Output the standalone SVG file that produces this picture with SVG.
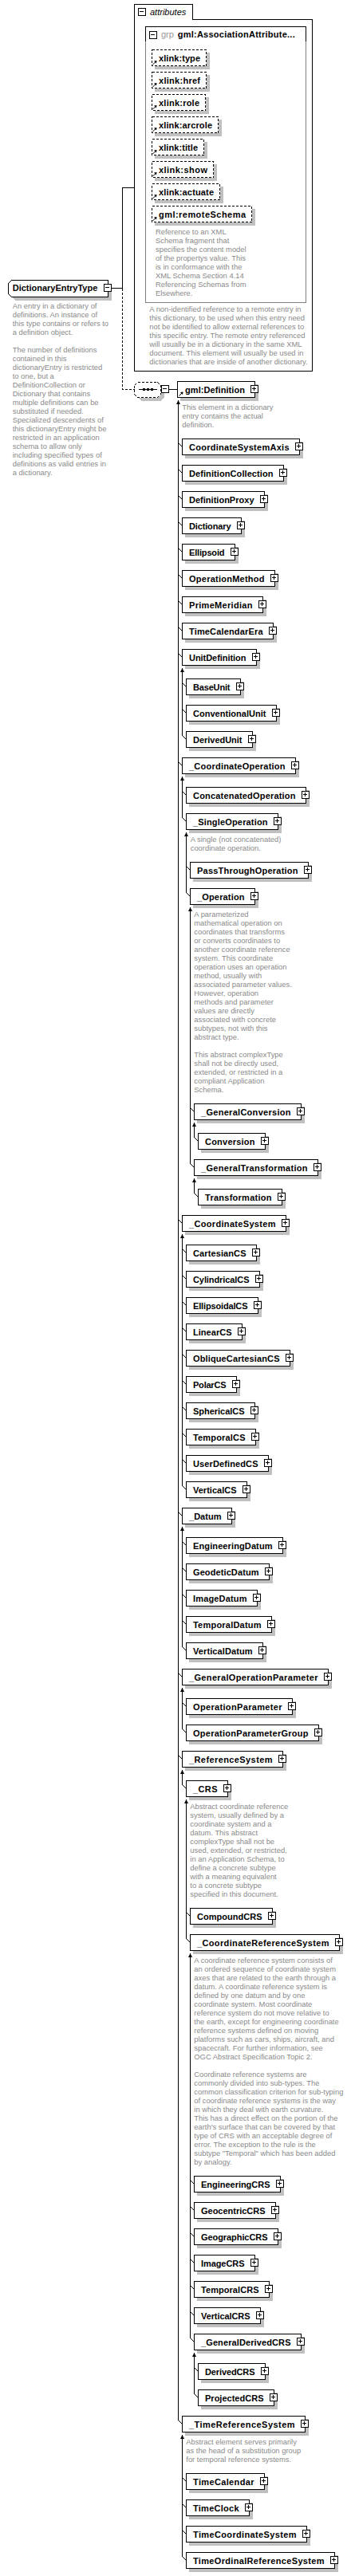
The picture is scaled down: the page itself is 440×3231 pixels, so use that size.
<svg xmlns="http://www.w3.org/2000/svg" width="440" height="3231" viewBox="0 0 440 3231">
<style>
text{font-family:"Liberation Sans",Arial,sans-serif}
.lb{font-size:11px;font-weight:bold;fill:#000}
.it{font-size:11px;font-style:italic;fill:#000}
.gr{font-size:11px;fill:#999}
.d{font-size:9.4px;fill:#8a8a8a}
.bx{fill:#fff;stroke:#000;shape-rendering:crispEdges}
.sh{fill:#c0c0c0;shape-rendering:crispEdges}
.dash{fill:#fff;stroke:#000;stroke-dasharray:3 2;shape-rendering:crispEdges}
.ln{fill:none;stroke:#000;shape-rendering:crispEdges}
.tk{fill:none;stroke:#000}
.ar{fill:none;stroke:#000;marker-start:url(#arr);shape-rendering:crispEdges}
</style>
<defs>
<marker id="arr" viewBox="0 0 5 5" refX="5" refY="2.5" markerWidth="5" markerHeight="5" markerUnits="userSpaceOnUse" orient="auto-start-reverse"><path d="M0 0L5 2.5L0 5z" fill="#000"/></marker>
<g id="plus"><rect x="-4.5" y="-4.5" width="9" height="9" class="bx"/><path d="M-3 -0.5H2M-0.5 -3V2" class="ln"/></g>
<g id="minus"><rect x="-4.5" y="-4.5" width="9" height="9" class="bx"/><path d="M-3 -0.5H2" class="ln"/></g>
<g id="refi"><path d="M0.5 5L4 1.5" class="tk"/><path d="M5.5 0L2 0.5L5 3.5z" fill="#000"/></g>
</defs>
<rect width="440" height="3231" fill="#fff"/>

<g id="DictionaryEntryType">
<polygon class="sh" points="18.5,355.5 139.5,355.5 139.5,376.5 18.5,376.5 14.5,372.5 14.5,359.5"/>
<polygon class="bx" points="14.5,351.5 135.5,351.5 135.5,372.5 14.5,372.5 10.5,368.5 10.5,355.5"/>
<text class="lb" x="15.7" y="365" textLength="106.6">DictionaryEntryType</text>
<use href="#minus" x="135" y="361"/>
<text class="d"><tspan x="15.7" y="387">An entry in a dictionary of</tspan><tspan x="15.7" y="398">definitions. An instance of</tspan><tspan x="15.7" y="409">this type contains or refers to</tspan><tspan x="15.7" y="420">a definition object.</tspan><tspan x="15.7" y="442">The number of definitions</tspan><tspan x="15.7" y="453">contained in this</tspan><tspan x="15.7" y="464">dictionaryEntry is restricted</tspan><tspan x="15.7" y="475">to one, but a</tspan><tspan x="15.7" y="486">DefinitionCollection or</tspan><tspan x="15.7" y="497">Dictionary that contains</tspan><tspan x="15.7" y="508">multiple definitions can be</tspan><tspan x="15.7" y="519">substituted if needed.</tspan><tspan x="15.7" y="530">Specialized descendents of</tspan><tspan x="15.7" y="541">this dictionaryEntry might be</tspan><tspan x="15.7" y="552">restricted in an application</tspan><tspan x="15.7" y="563">schema to allow only</tspan><tspan x="15.7" y="574">including specified types of</tspan><tspan x="15.7" y="585">definitions as valid entries in</tspan><tspan x="15.7" y="596">a dictionary.</tspan></text>
</g>

<g id="attributes">
<path class="ln" d="M168.5 5.5H241.5V24.5H391.5V465.5H168.5Z"/>
<use href="#minus" x="178" y="15"/>
<text class="it" x="188" y="18.5">attributes</text>
<rect x="182.5" y="33.5" width="201" height="346" fill="none" stroke="#808080" style="shape-rendering:crispEdges"/>
<path class="ln" d="M182.5 52V33.5H383.5V52"/>
<use href="#minus" x="192" y="44"/>
<text class="gr" x="202" y="47">grp</text>
<text class="lb" x="222.7" y="47" textLength="147">gml:AssociationAttribute...</text>
<text class="d"><tspan x="187.3" y="391">A non-identified reference to a remote entry in</tspan><tspan x="187.3" y="402">this dictionary, to be used when this entry need</tspan><tspan x="187.3" y="413">not be identified to allow external references to</tspan><tspan x="187.3" y="424">this specific entry. The remote entry referenced</tspan><tspan x="187.3" y="435">will usually be in a dictionary in the same XML</tspan><tspan x="187.3" y="446">document. This element will usually be used in</tspan><tspan x="187.3" y="457">dictionaries that are inside of another dictionary.</tspan></text>
</g>

<g id="a-xlink-type"><rect class="sh" x="194" y="66" width="69" height="21"/><rect class="dash" x="190.5" y="62.5" width="68" height="20"/><text class="lb" x="199" y="76.5" textLength="52">xlink:type</text><use href="#refi" x="191" y="76"/></g>
<g id="a-xlink-href"><rect class="sh" x="194" y="94" width="69" height="21"/><rect class="dash" x="190.5" y="90.5" width="68" height="20"/><text class="lb" x="199" y="104.5" textLength="52">xlink:href</text><use href="#refi" x="191" y="104"/></g>
<g id="a-xlink-role"><rect class="sh" x="194" y="122" width="68" height="21"/><rect class="dash" x="190.5" y="118.5" width="67" height="20"/><text class="lb" x="199" y="132.5" textLength="51">xlink:role</text><use href="#refi" x="191" y="132"/></g>
<g id="a-xlink-arcrole"><rect class="sh" x="194" y="150" width="84" height="21"/><rect class="dash" x="190.5" y="146.5" width="83" height="20"/><text class="lb" x="199" y="160.5" textLength="67">xlink:arcrole</text><use href="#refi" x="191" y="160"/></g>
<g id="a-xlink-title"><rect class="sh" x="194" y="178" width="66" height="21"/><rect class="dash" x="190.5" y="174.5" width="65" height="20"/><text class="lb" x="199" y="188.5" textLength="49">xlink:title</text><use href="#refi" x="191" y="188"/></g>
<g id="a-xlink-show"><rect class="sh" x="194" y="206" width="78" height="21"/><rect class="dash" x="190.5" y="202.5" width="77" height="20"/><text class="lb" x="199" y="216.5" textLength="61">xlink:show</text><use href="#refi" x="191" y="216"/></g>
<g id="a-xlink-actuate"><rect class="sh" x="194" y="234" width="86" height="21"/><rect class="dash" x="190.5" y="230.5" width="85" height="20"/><text class="lb" x="199" y="244.5" textLength="69">xlink:actuate</text><use href="#refi" x="191" y="244"/></g>
<g id="a-gml-remoteSchema"><rect class="sh" x="194" y="262" width="126" height="21"/><rect class="dash" x="190.5" y="258.5" width="125" height="20"/><text class="lb" x="199" y="272.5" textLength="109">gml:remoteSchema</text><use href="#refi" x="191" y="272"/>
<text class="d"><tspan x="195" y="294">Reference to an XML</tspan><tspan x="195" y="305">Schema fragment that</tspan><tspan x="195" y="316">specifies the content model</tspan><tspan x="195" y="327">of the propertys value. This</tspan><tspan x="195" y="338">is in conformance with the</tspan><tspan x="195" y="349">XML Schema Section 4.14</tspan><tspan x="195" y="360">Referencing Schemas from</tspan><tspan x="195" y="371">Elsewhere.</tspan></text></g>

<g id="sequence">
<polygon class="sh" points="176.5,483.5 201.5,483.5 205.5,487.5 205.5,498.5 201.5,502.5 176.5,502.5 172.5,498.5 172.5,487.5"/>
<polygon class="dash" points="172.5,479.5 197.5,479.5 201.5,483.5 201.5,494.5 197.5,498.5 172.5,498.5 168.5,494.5 168.5,483.5"/>
<path class="ln" d="M174 488.5H197"/>
<rect x="179" y="487" width="3" height="3" fill="#000"/><rect x="184" y="487" width="3" height="3" fill="#000"/><rect x="189" y="487" width="3" height="3" fill="#000"/>
<use href="#minus" x="207" y="488"/>
</g>

<g id="gml-Definition"><rect class="sh" x="226" y="482" width="98" height="21"/><rect class="bx" x="222.5" y="478.5" width="97" height="20"/><text class="lb" x="232" y="492.5" textLength="75">gml:Definition</text><use href="#plus" x="319" y="488"/><use href="#refi" x="224" y="491.5"/>
<text class="d"><tspan x="228.3" y="513.5">This element in a dictionary</tspan><tspan x="228.3" y="524.5">entry contains the actual</tspan><tspan x="228.3" y="535.5">definition.</tspan></text></g>

<g id="connectors">
<path class="ln" d="M139 361.5H153.5V235.5H168.5"/>
<path class="ln" style="stroke-dasharray:3 2" d="M153.5 361.5V488.5H168.5"/>
<path class="ln" d="M211.5 488.5H222.5"/>
<path class="ar" d="M223.5 502V3035.5"/>
<path class="ar" d="M228.5 838V922.5"/>
<path class="ar" d="M228.5 974V1025.5"/>
<path class="ar" d="M233.5 1044V1119.5"/>
<path class="ar" d="M238.5 1138V1459.5"/>
<path class="ar" d="M243.5 1408V1426.5"/>
<path class="ar" d="M243.5 1478V1496.5"/>
<path class="ar" d="M228.5 1548V1863.5"/>
<path class="ar" d="M228.5 1915V2065.5"/>
<path class="ar" d="M228.5 2117V2168.5"/>
<path class="ar" d="M228.5 2220V2238.5"/>
<path class="ar" d="M233.5 2257V2431.5"/>
<path class="ar" d="M238.5 2450V2932.5"/>
<path class="ar" d="M243.5 2951V3002.5"/>
<path class="ar" d="M228.5 3054V3206.5"/>
<path class="tk" d="M223.5 555.5l5 5M223.5 588.5l5 5M223.5 621.5l5 5M223.5 654.5l5 5M223.5 687.5l5 5M223.5 720.5l5 5M223.5 753.5l5 5M223.5 786.5l5 5M223.5 819.5l5 5M223.5 955.5l5 5M223.5 1529.5l5 5M223.5 1896.5l5 5M223.5 2098.5l5 5M223.5 2201.5l5 5M223.5 3035.5l5 5"/>
<path class="tk" d="M228.5 856.5l5 5M228.5 889.5l5 5M228.5 922.5l5 5M228.5 992.5l5 5M228.5 1025.5l5 5M228.5 1566.5l5 5M228.5 1599.5l5 5M228.5 1632.5l5 5M228.5 1665.5l5 5M228.5 1698.5l5 5M228.5 1731.5l5 5M228.5 1764.5l5 5M228.5 1797.5l5 5M228.5 1830.5l5 5M228.5 1863.5l5 5M228.5 1933.5l5 5M228.5 1966.5l5 5M228.5 1999.5l5 5M228.5 2032.5l5 5M228.5 2065.5l5 5M228.5 2135.5l5 5M228.5 2168.5l5 5M228.5 2238.5l5 5M228.5 3107.5l5 5M228.5 3140.5l5 5M228.5 3173.5l5 5M228.5 3206.5l5 5"/>
<path class="tk" d="M233.5 1086.5l5 5M233.5 1119.5l5 5M233.5 2398.5l5 5M233.5 2431.5l5 5"/>
<path class="tk" d="M238.5 1389.5l5 5M238.5 1459.5l5 5M238.5 2734.5l5 5M238.5 2767.5l5 5M238.5 2800.5l5 5M238.5 2833.5l5 5M238.5 2866.5l5 5M238.5 2899.5l5 5M238.5 2932.5l5 5"/>
<path class="tk" d="M243.5 1426.5l5 5M243.5 1496.5l5 5M243.5 2969.5l5 5M243.5 3002.5l5 5"/>
</g>

<g id="n-CoordinateSystemAxis"><rect class="sh" x="232" y="554" width="148" height="21"/><rect class="bx" x="228.5" y="550.5" width="147" height="20"/><text class="lb" x="237" y="564.5" textLength="125.5">CoordinateSystemAxis</text><use href="#plus" x="375" y="560"/></g>
<g id="n-DefinitionCollection"><rect class="sh" x="232" y="587" width="128" height="21"/><rect class="bx" x="228.5" y="583.5" width="127" height="20"/><text class="lb" x="237" y="597.5" textLength="105.5">DefinitionCollection</text><use href="#plus" x="355" y="593"/></g>
<g id="n-DefinitionProxy"><rect class="sh" x="232" y="620" width="104" height="21"/><rect class="bx" x="228.5" y="616.5" width="103" height="20"/><text class="lb" x="237" y="630.5" textLength="81.5">DefinitionProxy</text><use href="#plus" x="331" y="626"/></g>
<g id="n-Dictionary"><rect class="sh" x="232" y="653" width="75" height="21"/><rect class="bx" x="228.5" y="649.5" width="74" height="20"/><text class="lb" x="237" y="663.5" textLength="52.5">Dictionary</text><use href="#plus" x="302" y="659"/></g>
<g id="n-Ellipsoid"><rect class="sh" x="232" y="686" width="67" height="21"/><rect class="bx" x="228.5" y="682.5" width="66" height="20"/><text class="lb" x="237" y="696.5" textLength="44.5">Ellipsoid</text><use href="#plus" x="294" y="692"/></g>
<g id="n-OperationMethod"><rect class="sh" x="232" y="719" width="117" height="21"/><rect class="bx" x="228.5" y="715.5" width="116" height="20"/><text class="lb" x="237" y="729.5" textLength="94.5">OperationMethod</text><use href="#plus" x="344" y="725"/></g>
<g id="n-PrimeMeridian"><rect class="sh" x="232" y="752" width="102" height="21"/><rect class="bx" x="228.5" y="748.5" width="101" height="20"/><text class="lb" x="237" y="762.5" textLength="79.5">PrimeMeridian</text><use href="#plus" x="329" y="758"/></g>
<g id="n-TimeCalendarEra"><rect class="sh" x="232" y="785" width="115" height="21"/><rect class="bx" x="228.5" y="781.5" width="114" height="20"/><text class="lb" x="237" y="795.5" textLength="92.5">TimeCalendarEra</text><use href="#plus" x="342" y="791"/></g>
<g id="n-UnitDefinition"><rect class="sh" x="232" y="818" width="94" height="21"/><rect class="bx" x="228.5" y="814.5" width="93" height="20"/><text class="lb" x="237" y="828.5" textLength="71.5">UnitDefinition</text><use href="#plus" x="321" y="824"/></g>
<g id="n-BaseUnit"><rect class="sh" x="237" y="855" width="69" height="21"/><rect class="bx" x="233.5" y="851.5" width="68" height="20"/><text class="lb" x="242" y="865.5" textLength="46.5">BaseUnit</text><use href="#plus" x="301" y="861"/></g>
<g id="n-ConventionalUnit"><rect class="sh" x="237" y="888" width="114" height="21"/><rect class="bx" x="233.5" y="884.5" width="113" height="20"/><text class="lb" x="242" y="898.5" textLength="91.5">ConventionalUnit</text><use href="#plus" x="346" y="894"/></g>
<g id="n-DerivedUnit"><rect class="sh" x="237" y="921" width="84" height="21"/><rect class="bx" x="233.5" y="917.5" width="83" height="20"/><text class="lb" x="242" y="931.5" textLength="61.5">DerivedUnit</text><use href="#plus" x="316" y="927"/></g>
<g id="n-_CoordinateOperation"><rect class="sh" x="232" y="954" width="143" height="21"/><rect class="bx" x="228.5" y="950.5" width="142" height="20"/><text class="lb" x="237" y="964.5" textLength="120.5">_CoordinateOperation</text><use href="#plus" x="370" y="960"/></g>
<g id="n-ConcatenatedOperation"><rect class="sh" x="237" y="991" width="151" height="21"/><rect class="bx" x="233.5" y="987.5" width="150" height="20"/><text class="lb" x="242" y="1001.5" textLength="128.5">ConcatenatedOperation</text><use href="#plus" x="383" y="997"/></g>
<g id="n-_SingleOperation"><rect class="sh" x="237" y="1024" width="116" height="21"/><rect class="bx" x="233.5" y="1020.5" width="115" height="20"/><text class="lb" x="242" y="1034.5" textLength="93.5">_SingleOperation</text><use href="#plus" x="348" y="1030"/>
<text class="d"><tspan x="238.7" y="1056">A single (not concatenated)</tspan><tspan x="238.7" y="1067">coordinate operation.</tspan></text></g>
<g id="n-PassThroughOperation"><rect class="sh" x="242" y="1085" width="149" height="21"/><rect class="bx" x="238.5" y="1081.5" width="148" height="20"/><text class="lb" x="247" y="1095.5" textLength="126.5">PassThroughOperation</text><use href="#plus" x="386" y="1091"/></g>
<g id="n-_Operation"><rect class="sh" x="242" y="1118" width="82" height="21"/><rect class="bx" x="238.5" y="1114.5" width="81" height="20"/><text class="lb" x="247" y="1128.5" textLength="59.5">_Operation</text><use href="#plus" x="319" y="1124"/>
<text class="d"><tspan x="243.3" y="1150">A parameterized</tspan><tspan x="243.3" y="1161">mathematical operation on</tspan><tspan x="243.3" y="1172">coordinates that transforms</tspan><tspan x="243.3" y="1183">or converts coordinates to</tspan><tspan x="243.3" y="1194">another coordinate reference</tspan><tspan x="243.3" y="1205">system. This coordinate</tspan><tspan x="243.3" y="1216">operation uses an operation</tspan><tspan x="243.3" y="1227">method, usually with</tspan><tspan x="243.3" y="1238">associated parameter values.</tspan><tspan x="243.3" y="1249">However, operation</tspan><tspan x="243.3" y="1260">methods and parameter</tspan><tspan x="243.3" y="1271">values are directly</tspan><tspan x="243.3" y="1282">associated with concrete</tspan><tspan x="243.3" y="1293">subtypes, not with this</tspan><tspan x="243.3" y="1304">abstract type.</tspan><tspan x="243.3" y="1326">This abstract complexType</tspan><tspan x="243.3" y="1337">shall not be directly used,</tspan><tspan x="243.3" y="1348">extended, or restricted in a</tspan><tspan x="243.3" y="1359">compliant Application</tspan><tspan x="243.3" y="1370">Schema.</tspan></text></g>
<g id="n-_GeneralConversion"><rect class="sh" x="247" y="1388" width="135" height="21"/><rect class="bx" x="243.5" y="1384.5" width="134" height="20"/><text class="lb" x="252" y="1398.5" textLength="112.5">_GeneralConversion</text><use href="#plus" x="377" y="1394"/></g>
<g id="n-Conversion"><rect class="sh" x="252" y="1425" width="85" height="21"/><rect class="bx" x="248.5" y="1421.5" width="84" height="20"/><text class="lb" x="257" y="1435.5" textLength="62.5">Conversion</text><use href="#plus" x="332" y="1431"/></g>
<g id="n-_GeneralTransformation"><rect class="sh" x="247" y="1458" width="156" height="21"/><rect class="bx" x="243.5" y="1454.5" width="155" height="20"/><text class="lb" x="252" y="1468.5" textLength="133.5">_GeneralTransformation</text><use href="#plus" x="398" y="1464"/></g>
<g id="n-Transformation"><rect class="sh" x="252" y="1495" width="106" height="21"/><rect class="bx" x="248.5" y="1491.5" width="105" height="20"/><text class="lb" x="257" y="1505.5" textLength="83.5">Transformation</text><use href="#plus" x="353" y="1501"/></g>
<g id="n-_CoordinateSystem"><rect class="sh" x="232" y="1528" width="131" height="21"/><rect class="bx" x="228.5" y="1524.5" width="130" height="20"/><text class="lb" x="237" y="1538.5" textLength="108.5">_CoordinateSystem</text><use href="#plus" x="358" y="1534"/></g>
<g id="n-CartesianCS"><rect class="sh" x="237" y="1565" width="89" height="21"/><rect class="bx" x="233.5" y="1561.5" width="88" height="20"/><text class="lb" x="242" y="1575.5" textLength="66.5">CartesianCS</text><use href="#plus" x="321" y="1571"/></g>
<g id="n-CylindricalCS"><rect class="sh" x="237" y="1598" width="93" height="21"/><rect class="bx" x="233.5" y="1594.5" width="92" height="20"/><text class="lb" x="242" y="1608.5" textLength="70.5">CylindricalCS</text><use href="#plus" x="325" y="1604"/></g>
<g id="n-EllipsoidalCS"><rect class="sh" x="237" y="1631" width="91" height="21"/><rect class="bx" x="233.5" y="1627.5" width="90" height="20"/><text class="lb" x="242" y="1641.5" textLength="68.5">EllipsoidalCS</text><use href="#plus" x="323" y="1637"/></g>
<g id="n-LinearCS"><rect class="sh" x="237" y="1664" width="71" height="21"/><rect class="bx" x="233.5" y="1660.5" width="70" height="20"/><text class="lb" x="242" y="1674.5" textLength="48.5">LinearCS</text><use href="#plus" x="303" y="1670"/></g>
<g id="n-ObliqueCartesianCS"><rect class="sh" x="237" y="1697" width="131" height="21"/><rect class="bx" x="233.5" y="1693.5" width="130" height="20"/><text class="lb" x="242" y="1707.5" textLength="108.5">ObliqueCartesianCS</text><use href="#plus" x="363" y="1703"/></g>
<g id="n-PolarCS"><rect class="sh" x="237" y="1730" width="64" height="21"/><rect class="bx" x="233.5" y="1726.5" width="63" height="20"/><text class="lb" x="242" y="1740.5" textLength="41.5">PolarCS</text><use href="#plus" x="296" y="1736"/></g>
<g id="n-SphericalCS"><rect class="sh" x="237" y="1763" width="87" height="21"/><rect class="bx" x="233.5" y="1759.5" width="86" height="20"/><text class="lb" x="242" y="1773.5" textLength="64.5">SphericalCS</text><use href="#plus" x="319" y="1769"/></g>
<g id="n-TemporalCS"><rect class="sh" x="237" y="1796" width="88" height="21"/><rect class="bx" x="233.5" y="1792.5" width="87" height="20"/><text class="lb" x="242" y="1806.5" textLength="65.5">TemporalCS</text><use href="#plus" x="320" y="1802"/></g>
<g id="n-UserDefinedCS"><rect class="sh" x="237" y="1829" width="104" height="21"/><rect class="bx" x="233.5" y="1825.5" width="103" height="20"/><text class="lb" x="242" y="1839.5" textLength="81.5">UserDefinedCS</text><use href="#plus" x="336" y="1835"/></g>
<g id="n-VerticalCS"><rect class="sh" x="237" y="1862" width="77" height="21"/><rect class="bx" x="233.5" y="1858.5" width="76" height="20"/><text class="lb" x="242" y="1872.5" textLength="54.5">VerticalCS</text><use href="#plus" x="309" y="1868"/></g>
<g id="n-_Datum"><rect class="sh" x="232" y="1895" width="63" height="21"/><rect class="bx" x="228.5" y="1891.5" width="62" height="20"/><text class="lb" x="237" y="1905.5" textLength="40.5">_Datum</text><use href="#plus" x="290" y="1901"/></g>
<g id="n-EngineeringDatum"><rect class="sh" x="237" y="1932" width="122" height="21"/><rect class="bx" x="233.5" y="1928.5" width="121" height="20"/><text class="lb" x="242" y="1942.5" textLength="99.5">EngineeringDatum</text><use href="#plus" x="354" y="1938"/></g>
<g id="n-GeodeticDatum"><rect class="sh" x="237" y="1965" width="105" height="21"/><rect class="bx" x="233.5" y="1961.5" width="104" height="20"/><text class="lb" x="242" y="1975.5" textLength="82.5">GeodeticDatum</text><use href="#plus" x="337" y="1971"/></g>
<g id="n-ImageDatum"><rect class="sh" x="237" y="1998" width="90" height="21"/><rect class="bx" x="233.5" y="1994.5" width="89" height="20"/><text class="lb" x="242" y="2008.5" textLength="67.5">ImageDatum</text><use href="#plus" x="322" y="2004"/></g>
<g id="n-TemporalDatum"><rect class="sh" x="237" y="2031" width="108" height="21"/><rect class="bx" x="233.5" y="2027.5" width="107" height="20"/><text class="lb" x="242" y="2041.5" textLength="85.5">TemporalDatum</text><use href="#plus" x="340" y="2037"/></g>
<g id="n-VerticalDatum"><rect class="sh" x="237" y="2064" width="97" height="21"/><rect class="bx" x="233.5" y="2060.5" width="96" height="20"/><text class="lb" x="242" y="2074.5" textLength="74.5">VerticalDatum</text><use href="#plus" x="329" y="2070"/></g>
<g id="n-_GeneralOperationParameter"><rect class="sh" x="232" y="2097" width="184" height="21"/><rect class="bx" x="228.5" y="2093.5" width="183" height="20"/><text class="lb" x="237" y="2107.5" textLength="161.5">_GeneralOperationParameter</text><use href="#plus" x="411" y="2103"/></g>
<g id="n-OperationParameter"><rect class="sh" x="237" y="2134" width="134" height="21"/><rect class="bx" x="233.5" y="2130.5" width="133" height="20"/><text class="lb" x="242" y="2144.5" textLength="111.5">OperationParameter</text><use href="#plus" x="366" y="2140"/></g>
<g id="n-OperationParameterGroup"><rect class="sh" x="237" y="2167" width="167" height="21"/><rect class="bx" x="233.5" y="2163.5" width="166" height="20"/><text class="lb" x="242" y="2177.5" textLength="144.5">OperationParameterGroup</text><use href="#plus" x="399" y="2173"/></g>
<g id="n-_ReferenceSystem"><rect class="sh" x="232" y="2200" width="127" height="21"/><rect class="bx" x="228.5" y="2196.5" width="126" height="20"/><text class="lb" x="237" y="2210.5" textLength="104.5">_ReferenceSystem</text><use href="#plus" x="354" y="2206"/></g>
<g id="n-_CRS"><rect class="sh" x="237" y="2237" width="53" height="21"/><rect class="bx" x="233.5" y="2233.5" width="52" height="20"/><text class="lb" x="242" y="2247.5" textLength="30.5">_CRS</text><use href="#plus" x="285" y="2243"/>
<text class="d"><tspan x="238.3" y="2269">Abstract coordinate reference</tspan><tspan x="238.3" y="2280">system, usually defined by a</tspan><tspan x="238.3" y="2291">coordinate system and a</tspan><tspan x="238.3" y="2302">datum. This abstract</tspan><tspan x="238.3" y="2313">complexType shall not be</tspan><tspan x="238.3" y="2324">used, extended, or restricted,</tspan><tspan x="238.3" y="2335">in an Application Schema, to</tspan><tspan x="238.3" y="2346">define a concrete subtype</tspan><tspan x="238.3" y="2357">with a meaning equivalent</tspan><tspan x="238.3" y="2368">to a concrete subtype</tspan><tspan x="238.3" y="2379">specified in this document.</tspan></text></g>
<g id="n-CompoundCRS"><rect class="sh" x="242" y="2397" width="104" height="21"/><rect class="bx" x="238.5" y="2393.5" width="103" height="20"/><text class="lb" x="247" y="2407.5" textLength="81.5">CompoundCRS</text><use href="#plus" x="341" y="2403"/></g>
<g id="n-_CoordinateReferenceSystem"><rect class="sh" x="242" y="2430" width="188" height="21"/><rect class="bx" x="238.5" y="2426.5" width="187" height="20"/><text class="lb" x="247" y="2440.5" textLength="165.5">_CoordinateReferenceSystem</text><use href="#plus" x="425" y="2436"/>
<text class="d"><tspan x="243.3" y="2461.5">A coordinate reference system consists of</tspan><tspan x="243.3" y="2472.5">an ordered sequence of coordinate system</tspan><tspan x="243.3" y="2483.5">axes that are related to the earth through a</tspan><tspan x="243.3" y="2494.5">datum. A coordinate reference system is</tspan><tspan x="243.3" y="2505.5">defined by one datum and by one</tspan><tspan x="243.3" y="2516.5">coordinate system. Most coordinate</tspan><tspan x="243.3" y="2527.5">reference system do not move relative to</tspan><tspan x="243.3" y="2538.5">the earth, except for engineering coordinate</tspan><tspan x="243.3" y="2549.5">reference systems defined on moving</tspan><tspan x="243.3" y="2560.5">platforms such as cars, ships, aircraft, and</tspan><tspan x="243.3" y="2571.5">spacecraft. For further information, see</tspan><tspan x="243.3" y="2582.5">OGC Abstract Specification Topic 2.</tspan><tspan x="243.3" y="2604.5">Coordinate reference systems are</tspan><tspan x="243.3" y="2615.5">commonly divided into sub-types. The</tspan><tspan x="243.3" y="2626.5">common classification criterion for sub-typing</tspan><tspan x="243.3" y="2637.5">of coordinate reference systems is the way</tspan><tspan x="243.3" y="2648.5">in which they deal with earth curvature.</tspan><tspan x="243.3" y="2659.5">This has a direct effect on the portion of the</tspan><tspan x="243.3" y="2670.5">earth's surface that can be covered by that</tspan><tspan x="243.3" y="2681.5">type of CRS with an acceptable degree of</tspan><tspan x="243.3" y="2692.5">error. The exception to the rule is the</tspan><tspan x="243.3" y="2703.5">subtype "Temporal" which has been added</tspan><tspan x="243.3" y="2714.5">by analogy.</tspan></text></g>
<g id="n-EngineeringCRS"><rect class="sh" x="247" y="2733" width="109" height="21"/><rect class="bx" x="243.5" y="2729.5" width="108" height="20"/><text class="lb" x="252" y="2743.5" textLength="86.5">EngineeringCRS</text><use href="#plus" x="351" y="2739"/></g>
<g id="n-GeocentricCRS"><rect class="sh" x="247" y="2766" width="103" height="21"/><rect class="bx" x="243.5" y="2762.5" width="102" height="20"/><text class="lb" x="252" y="2776.5" textLength="80.5">GeocentricCRS</text><use href="#plus" x="345" y="2772"/></g>
<g id="n-GeographicCRS"><rect class="sh" x="247" y="2799" width="106" height="21"/><rect class="bx" x="243.5" y="2795.5" width="105" height="20"/><text class="lb" x="252" y="2809.5" textLength="83.5">GeographicCRS</text><use href="#plus" x="348" y="2805"/></g>
<g id="n-ImageCRS"><rect class="sh" x="247" y="2832" width="77" height="21"/><rect class="bx" x="243.5" y="2828.5" width="76" height="20"/><text class="lb" x="252" y="2842.5" textLength="54.5">ImageCRS</text><use href="#plus" x="319" y="2838"/></g>
<g id="n-TemporalCRS"><rect class="sh" x="247" y="2865" width="95" height="21"/><rect class="bx" x="243.5" y="2861.5" width="94" height="20"/><text class="lb" x="252" y="2875.5" textLength="72.5">TemporalCRS</text><use href="#plus" x="337" y="2871"/></g>
<g id="n-VerticalCRS"><rect class="sh" x="247" y="2898" width="84" height="21"/><rect class="bx" x="243.5" y="2894.5" width="83" height="20"/><text class="lb" x="252" y="2908.5" textLength="61.5">VerticalCRS</text><use href="#plus" x="326" y="2904"/></g>
<g id="n-_GeneralDerivedCRS"><rect class="sh" x="247" y="2931" width="135" height="21"/><rect class="bx" x="243.5" y="2927.5" width="134" height="20"/><text class="lb" x="252" y="2941.5" textLength="112.5">_GeneralDerivedCRS</text><use href="#plus" x="377" y="2937"/></g>
<g id="n-DerivedCRS"><rect class="sh" x="252" y="2968" width="85" height="21"/><rect class="bx" x="248.5" y="2964.5" width="84" height="20"/><text class="lb" x="257" y="2978.5" textLength="62.5">DerivedCRS</text><use href="#plus" x="332" y="2974"/></g>
<g id="n-ProjectedCRS"><rect class="sh" x="252" y="3001" width="96" height="21"/><rect class="bx" x="248.5" y="2997.5" width="95" height="20"/><text class="lb" x="257" y="3011.5" textLength="73.5">ProjectedCRS</text><use href="#plus" x="343" y="3007"/></g>
<g id="n-_TimeReferenceSystem"><rect class="sh" x="232" y="3034" width="155" height="21"/><rect class="bx" x="228.5" y="3030.5" width="154" height="20"/><text class="lb" x="237" y="3044.5" textLength="132.5">_TimeReferenceSystem</text><use href="#plus" x="382" y="3040"/>
<text class="d"><tspan x="233.3" y="3066">Abstract element serves primarily</tspan><tspan x="233.3" y="3077">as the head of a substitution group</tspan><tspan x="233.3" y="3088">for temporal reference systems.</tspan></text></g>
<g id="n-TimeCalendar"><rect class="sh" x="237" y="3106" width="99" height="21"/><rect class="bx" x="233.5" y="3102.5" width="98" height="20"/><text class="lb" x="242" y="3116.5" textLength="76.5">TimeCalendar</text><use href="#plus" x="331" y="3112"/></g>
<g id="n-TimeClock"><rect class="sh" x="237" y="3139" width="80" height="21"/><rect class="bx" x="233.5" y="3135.5" width="79" height="20"/><text class="lb" x="242" y="3149.5" textLength="57.5">TimeClock</text><use href="#plus" x="312" y="3145"/></g>
<g id="n-TimeCoordinateSystem"><rect class="sh" x="237" y="3172" width="152" height="21"/><rect class="bx" x="233.5" y="3168.5" width="151" height="20"/><text class="lb" x="242" y="3182.5" textLength="129.5">TimeCoordinateSystem</text><use href="#plus" x="384" y="3178"/></g>
<g id="n-TimeOrdinalReferenceSystem"><rect class="sh" x="237" y="3205" width="187" height="21"/><rect class="bx" x="233.5" y="3201.5" width="186" height="20"/><text class="lb" x="242" y="3215.5" textLength="164.5">TimeOrdinalReferenceSystem</text><use href="#plus" x="419" y="3211"/></g>
</svg>
